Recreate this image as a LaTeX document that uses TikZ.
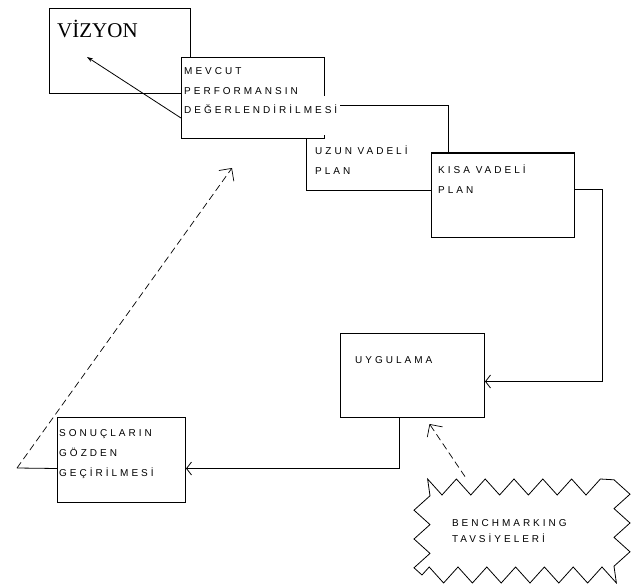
\documentclass[tikz,border=0pt]{standalone}
\usepackage{fontspec}
\setmainfont{Liberation Sans}
\newfontfamily\boxfont[LetterSpace=30]{Liberation Sans}
\newfontfamily\titlefont{Liberation Serif}
\usetikzlibrary{arrows.meta,decorations.pathmorphing}

\tikzset{
  planbox/.style={draw, fill=white, line width=1pt, anchor=north west, inner sep=0pt},
  boxtext/.style={anchor=base west, align=left, inner sep=0pt,
    font=\boxfont\fontsize{10}{20}\selectfont},
  flow/.style={line width=.8pt},
  open/.style={-{Straight Barb[length=5pt,width=13pt]}},
  hint/.style={dash pattern=on 7pt off 4pt, line width=.7pt, -{Straight Barb[angle=90:13pt]}},
  burst/.style={draw, line width=.8pt, decorate,
    decoration={zigzag, segment length=28.8pt, amplitude=8pt},
    minimum width=200pt, minimum height=88pt, text width=140pt, align=left,
    font=\boxfont\fontsize{10}{16}\selectfont}
}

\begin{document}
\begin{tikzpicture}[x=1pt,y=-1pt]
  \useasboundingbox (0,0) rectangle (638,584);

  % boxes, back to front
  \node[planbox, minimum width=141pt, minimum height=85pt] (vizyon) at (49,8) {};
  \node[planbox, minimum width=142pt, minimum height=85pt] (uzun) at (306,105) {};
  \node[planbox, minimum width=143pt, minimum height=81pt] (mevcut) at (181,57) {};
  \node[planbox, minimum width=143pt, minimum height=84pt] (kisa) at (431,153) {};
  \draw[line width=2.2pt] (kisa.north west) -- (kisa.north east);
  \node[planbox, minimum width=144pt, minimum height=84pt] (uygulama) at (340,333) {};
  \node[planbox, minimum width=128pt, minimum height=85pt] (sonuc) at (57,417) {};

  % texts (base = last line)
  \node[anchor=base west, inner sep=0pt, font=\titlefont\fontsize{21}{24}\selectfont]
    (vizyon-t) at (57,37) {VİZYON};
  \node[boxtext] (mevcut-t) at (184,94) {MEVCUT\\PERFORMANSIN};
  \node[boxtext, fill=white, text height=17pt, text depth=22pt]
    (mevcut-t2) at (184,113) {DEĞERLENDİRİLMESİ\hspace{3pt}};
  \node[boxtext] (uzun-t) at (315,174) {UZUN VADELİ\\PLAN};
  \node[boxtext] (kisa-t) at (438,193) {KISA VADELİ\\PLAN};
  \node[boxtext] (uygulama-t) at (355,363) {UYGULAMA};
  \node[boxtext] (sonuc-t) at (59,476) {SONUÇLARIN\\GÖZDEN\\GEÇİRİLMESİ};

  \node[burst] (bench) at (522,531) {BENCHMARKING\\TAVSİYELERİ};

  % connectors
  \coordinate (vizyon-pt) at (87,57);
  \coordinate (loop-start) at (17,468);
  \coordinate (loop-end) at (232,168);
  \draw[flow, -{Stealth[length=6pt,width=4pt]}] ([yshift=-20pt]mevcut.west) -- (vizyon-pt);
  \draw[flow, open] ([yshift=6pt]kisa.east) -- ++(27,0) |- ([yshift=-6pt]uygulama.east);
  \draw[flow, open] ([xshift=-13pt]uygulama.south) |- ([yshift=-8.5pt]sonuc.east);
  \draw[flow] ([yshift=-8.5pt]sonuc.west) -- (loop-start);
  \draw[hint] (loop-start) -- (loop-end);
  \draw[hint] ([xshift=-57pt,yshift=10pt]bench.north) -- ([xshift=17pt,yshift=-6pt]uygulama.south);
\end{tikzpicture}
\end{document}
